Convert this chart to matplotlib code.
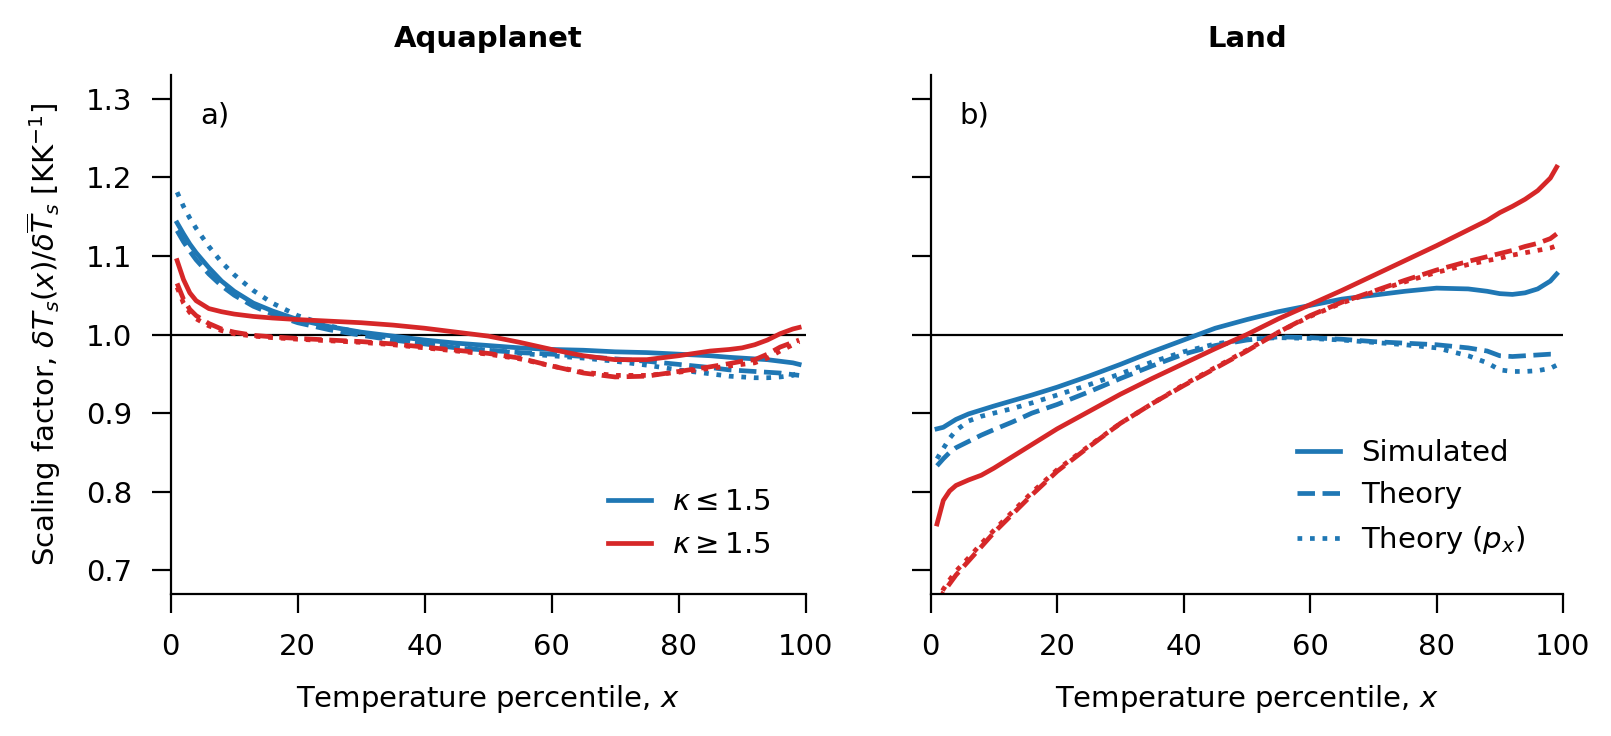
import matplotlib
matplotlib.use("Agg")
import matplotlib.pyplot as plt


# Percentiles used for every curve
pct = [1, 2, 3, 4, 6, 8, 10, 13, 16, 20, 25, 30, 35, 40, 45, 50, 55, 60,
       65, 70, 75, 80, 85, 88, 90, 92, 94, 96, 98, 99]

# Aquaplanet, kappa <= 1.5 (blue)
aq_sim_lo = [1.142, 1.128, 1.115, 1.104, 1.085, 1.068, 1.055, 1.040, 1.030, 1.019,
             1.010, 1.003, 0.998, 0.993, 0.989, 0.986, 0.983, 0.981, 0.980, 0.978,
             0.977, 0.975, 0.973, 0.971, 0.970, 0.969, 0.968, 0.966, 0.964, 0.962]
aq_th_lo = [1.132, 1.118, 1.106, 1.095, 1.077, 1.062, 1.050, 1.036, 1.026, 1.015,
            1.006, 0.999, 0.993, 0.988, 0.983, 0.980, 0.977, 0.975, 0.972, 0.969,
            0.966, 0.962, 0.958, 0.955, 0.954, 0.953, 0.952, 0.951, 0.949, 0.948]
aq_px_lo = [1.181, 1.163, 1.148, 1.135, 1.112, 1.092, 1.076, 1.056, 1.040, 1.024,
            1.011, 1.002, 0.995, 0.989, 0.984, 0.980, 0.976, 0.973, 0.970, 0.966,
            0.961, 0.955, 0.950, 0.947, 0.946, 0.945, 0.945, 0.946, 0.948, 0.952]

# Aquaplanet, kappa >= 1.5 (red)
aq_sim_hi = [1.094, 1.070, 1.053, 1.043, 1.033, 1.029, 1.026, 1.023, 1.021, 1.019,
             1.017, 1.015, 1.012, 1.008, 1.003, 0.998, 0.990, 0.981, 0.973, 0.968,
             0.968, 0.973, 0.979, 0.981, 0.983, 0.987, 0.993, 1.001, 1.007, 1.009]
aq_th_hi = [1.065, 1.045, 1.032, 1.024, 1.014, 1.007, 1.003, 0.999, 0.997, 0.995,
            0.993, 0.991, 0.988, 0.984, 0.980, 0.976, 0.970, 0.960, 0.951, 0.946,
            0.947, 0.953, 0.959, 0.963, 0.966, 0.968, 0.975, 0.984, 0.990, 0.993]
aq_px_hi = [1.060, 1.040, 1.028, 1.020, 1.011, 1.005, 1.001, 0.998, 0.996, 0.994,
            0.992, 0.990, 0.987, 0.983, 0.979, 0.975, 0.969, 0.960, 0.952, 0.948,
            0.948, 0.952, 0.957, 0.960, 0.962, 0.964, 0.970, 0.979, 0.987, 0.991]

# Land, kappa <= 1.5 (blue)
land_sim_lo = [0.880, 0.882, 0.887, 0.892, 0.899, 0.904, 0.909, 0.916, 0.923, 0.933,
               0.947, 0.962, 0.978, 0.993, 1.008, 1.019, 1.029, 1.037, 1.045, 1.050,
               1.055, 1.059, 1.058, 1.055, 1.052, 1.051, 1.053, 1.058, 1.068, 1.077]
land_th_lo = [0.833, 0.842, 0.850, 0.856, 0.864, 0.872, 0.879, 0.889, 0.900, 0.911,
              0.927, 0.944, 0.960, 0.975, 0.986, 0.993, 0.997, 0.996, 0.994, 0.991,
              0.989, 0.987, 0.983, 0.979, 0.973, 0.972, 0.973, 0.974, 0.975, 0.975]
land_px_lo = [0.842, 0.855, 0.868, 0.878, 0.890, 0.896, 0.900, 0.906, 0.913, 0.923,
              0.936, 0.950, 0.965, 0.978, 0.988, 0.994, 0.996, 0.995, 0.993, 0.990,
              0.987, 0.983, 0.973, 0.964, 0.955, 0.953, 0.953, 0.954, 0.957, 0.961]

# Land, kappa >= 1.5 (red)
land_sim_hi = [0.759, 0.789, 0.801, 0.808, 0.815, 0.821, 0.830, 0.845, 0.860, 0.880,
               0.902, 0.924, 0.944, 0.963, 0.982, 1.000, 1.020, 1.038, 1.056, 1.075,
               1.094, 1.113, 1.133, 1.145, 1.155, 1.163, 1.172, 1.183, 1.199, 1.213]
land_th_hi = [0.652, 0.672, 0.683, 0.694, 0.712, 0.730, 0.748, 0.772, 0.796, 0.826,
              0.857, 0.887, 0.912, 0.935, 0.957, 0.979, 1.003, 1.024, 1.041, 1.055,
              1.069, 1.082, 1.093, 1.099, 1.103, 1.107, 1.112, 1.116, 1.122, 1.128]
land_px_hi = [0.660, 0.676, 0.688, 0.699, 0.716, 0.734, 0.751, 0.775, 0.799, 0.828,
              0.858, 0.887, 0.912, 0.936, 0.958, 0.980, 1.003, 1.023, 1.040, 1.054,
              1.067, 1.079, 1.089, 1.094, 1.097, 1.101, 1.104, 1.107, 1.110, 1.113]

titles = ["Aquaplanet", "Land"]
panel_labels = ["a)", "b)"]
yticks = [0.7, 0.8, 0.9, 1.0, 1.1, 1.2, 1.3]
xticks = [0, 20, 40, 60, 80, 100]

blue = "#1f77b4"
red = "#d62728"
lw = 1.7

plt.rcParams.update({
    "font.size": 10.5,
    "axes.linewidth": 0.8,
    "xtick.major.size": 7,
    "ytick.major.size": 7,
    "xtick.major.width": 0.8,
    "ytick.major.width": 0.8,
    "xtick.major.pad": 7,
    "ytick.major.pad": 7,
})


#Dibuja un panel con sus seis curvas
def drawPanel(ax, sim_lo, th_lo, px_lo, sim_hi, th_hi, px_hi):
    ax.axhline(1.0, color="k", lw=0.8, zorder=1)
    ax.plot(pct, sim_lo, color=blue, ls="-", lw=lw)
    ax.plot(pct, th_lo, color=blue, ls="--", lw=lw)
    ax.plot(pct, px_lo, color=blue, ls=":", lw=lw)
    ax.plot(pct, sim_hi, color=red, ls="-", lw=lw)
    ax.plot(pct, th_hi, color=red, ls="--", lw=lw)
    ax.plot(pct, px_hi, color=red, ls=":", lw=lw)
    ax.set_xlim(0, 100)
    ax.set_ylim(0.67, 1.33)
    ax.set_xticks(xticks)
    ax.set_yticks(yticks)
    ax.spines["top"].set_visible(False)
    ax.spines["right"].set_visible(False)
    ax.set_xlabel("Temperature percentile, $x$", labelpad=8)


fig = plt.figure(figsize=(8.055, 3.68), dpi=200)
ax1 = fig.add_axes([0.106, 0.193, 0.394, 0.705])
ax2 = fig.add_axes([0.5777, 0.193, 0.3925, 0.705], sharey=ax1)

drawPanel(ax1, aq_sim_lo, aq_th_lo, aq_px_lo, aq_sim_hi, aq_th_hi, aq_px_hi)
drawPanel(ax2, land_sim_lo, land_th_lo, land_px_lo, land_sim_hi, land_th_hi, land_px_hi)
ax2.tick_params(labelleft=False)

for ax, t, lab in zip([ax1, ax2], titles, panel_labels):
    ax.set_title(t, fontweight="bold", fontsize=10.5, pad=10)
    ax.text(0.046, 0.923, lab, transform=ax.transAxes, ha="left", va="center")

ax1.set_ylabel(r"Scaling factor, $\delta T_s(x)/\delta \overline{T}_s$ [KK$^{-1}$]", labelpad=8)

#Leyendas
h1, = ax1.plot([], [], color=blue, lw=lw, label=r"$\kappa \leq 1.5$")
h2, = ax1.plot([], [], color=red, lw=lw, label=r"$\kappa \geq 1.5$")
ax1.legend(handles=[h1, h2], loc="lower right", frameon=False,
           handlelength=1.5, handletextpad=0.7, borderaxespad=0.8)

g1, = ax2.plot([], [], color=blue, ls="-", lw=lw, label="Simulated")
g2, = ax2.plot([], [], color=blue, ls="--", lw=lw, label="Theory")
g3, = ax2.plot([], [], color=blue, ls=":", lw=lw, label="Theory ($p_x$)")
ax2.legend(handles=[g1, g2, g3], loc="lower right", frameon=False,
           handlelength=1.5, handletextpad=0.7, borderaxespad=0.9)

fig.savefig("out.png", dpi=200)
